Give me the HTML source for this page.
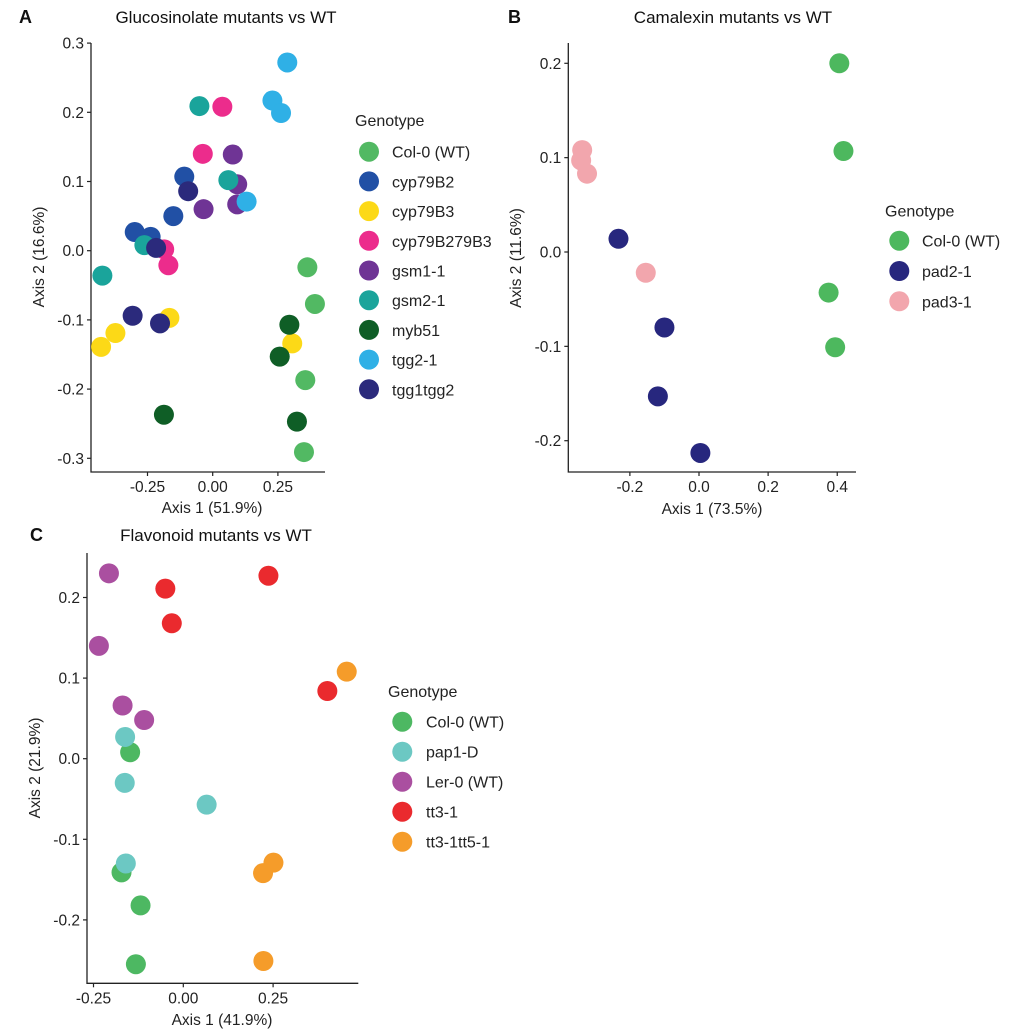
<!DOCTYPE html>
<html><head><meta charset="utf-8"><style>
body{margin:0;background:#fff;}
svg{display:block;font-family:"Liberation Sans",sans-serif;}
</style></head><body>
<svg id="fig" width="1009" height="1030" viewBox="0 0 1009 1030" xmlns="http://www.w3.org/2000/svg">
<rect width="1009" height="1030" fill="#fff"/>
</svg>
<script>
// ---- Panel A data ----
const aGroups = ["Col-0 (WT)","cyp79B2","cyp79B3","cyp79B279B3","gsm1-1","gsm2-1","myb51","tgg2-1","tgg1tgg2"];
const aColors = ["#52b963","#2150a5","#fcd917","#ec2c8c","#6f3495","#1aa49b","#0f5e26","#2fb0e6","#2b2a7c"];
const aX = [
 [0.363,0.392,0.355,0.350],
 [-0.299,-0.238,-0.109,-0.151],
 [-0.428,-0.373,-0.166,0.305],
 [0.037,-0.038,-0.186,-0.170],
 [0.077,0.094,0.094,-0.035],
 [-0.051,0.060,-0.262,-0.423],
 [0.294,0.257,0.323,-0.187],
 [0.286,0.229,0.262,0.130],
 [-0.094,-0.217,-0.307,-0.202]];
const aY = [
 [-0.024,-0.077,-0.187,-0.291],
 [0.027,0.020,0.107,0.050],
 [-0.139,-0.119,-0.097,-0.134],
 [0.208,0.140,0.002,-0.021],
 [0.139,0.096,0.067,0.060],
 [0.209,0.102,0.008,-0.036],
 [-0.107,-0.153,-0.247,-0.237],
 [0.272,0.217,0.199,0.071],
 [0.086,0.004,-0.094,-0.105]];
const aXTicks = [-0.25,0,0.25];
const aXTickLabels = ["-0.25","0.00","0.25"];
const aYTicks = [0.3,0.2,0.1,0,-0.1,-0.2,-0.3];
const aYTickLabels = ["0.3","0.2","0.1","0.0","-0.1","-0.2","-0.3"];
// ---- Panel B data ----
const bGroups = ["Col-0 (WT)","pad2-1","pad3-1"];
const bColors = ["#4db85e","#27277e","#f2a6ad"];
const bX = [[0.406,0.418,0.375,0.394],[-0.233,-0.100,-0.119,0.004],[-0.338,-0.341,-0.324,-0.154]];
const bY = [[0.200,0.107,-0.043,-0.101],[0.014,-0.080,-0.153,-0.213],[0.108,0.097,0.083,-0.022]];
const bXTicks = [-0.2,0,0.2,0.4];
const bXTickLabels = ["-0.2","0.0","0.2","0.4"];
const bYTicks = [0.2,0.1,0,-0.1,-0.2];
const bYTickLabels = ["0.2","0.1","0.0","-0.1","-0.2"];
// ---- Panel C data ----
const cGroups = ["Col-0 (WT)","pap1-D","Ler-0 (WT)","tt3-1","tt3-1tt5-1"];
const cColors = ["#4db862","#6cc8c3","#aa4fa0","#ea2a2e","#f59c2a"];
const cX = [[-0.148,-0.172,-0.119,-0.132],[-0.162,-0.163,0.065,-0.160],[-0.207,-0.235,-0.169,-0.109],[-0.050,-0.032,0.237,0.401],[0.455,0.251,0.222,0.223]];
const cY = [[0.008,-0.141,-0.182,-0.255],[0.027,-0.030,-0.057,-0.130],[0.230,0.140,0.066,0.048],[0.211,0.168,0.227,0.084],[0.108,-0.129,-0.142,-0.251]];
const cXTicks = [-0.25,0,0.25];
const cXTickLabels = ["-0.25","0.00","0.25"];
const cYTicks = [0.2,0.1,0,-0.1,-0.2];
const cYTickLabels = ["0.2","0.1","0.0","-0.1","-0.2"];

const NS="http://www.w3.org/2000/svg";
const svg=document.getElementById('fig');
function mk(tag,attrs,parent,txt){const e=document.createElementNS(NS,tag);for(const k in attrs)e.setAttribute(k,attrs[k]);if(txt!==undefined)e.textContent=txt;(parent||svg).appendChild(e);return e;}

function panel(p){
  const g=mk('g',{});
  
  
  const sx=v=>p.x0+v*p.xs, sy=v=>p.y0-v*p.ys;
  const lt=mk('text',{x:p.letter[0],y:p.letter[1],'font-size':18,'font-weight':'bold',fill:'#111'},g,p.letterText);
  
  
  const tt=mk('text',{x:p.title[0],y:p.title[1],'font-size':17,'text-anchor':'middle',fill:'#111'},g,p.titleText);
  
  
  const ax=mk('path',{d:`M${p.left} ${p.top}V${p.bottom}H${p.right}`,stroke:'#222','stroke-width':1.3,fill:'none'},g);
  
  
  p.xt.forEach((v,i)=>{
    const x=sx(v);
    mk('line',{x1:x,x2:x,y1:p.bottom,y2:p.bottom+4,stroke:'#222','stroke-width':1.2},g);
    const t=mk('text',{x:x,y:p.bottom+20,'font-size':15.5,'text-anchor':'middle',fill:'#222'},g,p.xtl[i]);
    
    
  });
  p.yt.forEach((v,i)=>{
    const y=sy(v);
    mk('line',{x1:p.left-4,x2:p.left,y1:y,y2:y,stroke:'#222','stroke-width':1.2},g);
    const t=mk('text',{x:p.left-7,y:y+5.5,'font-size':15.5,'text-anchor':'end',fill:'#222'},g,p.ytl[i]);
    
    
  });
  const xt=mk('text',{x:p.xtitle[0],y:p.xtitle[1],'font-size':15.5,'text-anchor':'middle',fill:'#222'},g,p.xtitleText);
  
  
  const yt=mk('text',{x:0,y:0,'font-size':15.5,'text-anchor':'middle',fill:'#222',transform:`translate(${p.ytitle[0]},${p.ytitle[1]}) rotate(-90)`},g,p.ytitleText);
  
  
  p.groups.forEach((name,gi)=>{
    p.X[gi].forEach((xv,j)=>{
      const c=mk('circle',{cx:sx(xv),cy:sy(p.Y[gi][j]),r:10,fill:p.colors[gi]},g);
      
      
    });
  });
  const lg=mk('g',{},g);
  
  
  mk('text',{x:p.leg.tx,y:p.leg.ty+6,'font-size':16,fill:'#222'},lg,'Genotype');
  p.groups.forEach((name,gi)=>{
    const y=p.leg.cy+gi*p.leg.sp;
    const e=mk('g',{},lg);
    
    
    mk('circle',{cx:p.leg.cx,cy:y,r:10,fill:p.colors[gi]},e);
    mk('text',{x:p.leg.lx,y:y+6,'font-size':16,fill:'#222'},e,name);
  });
}

panel({id:'glucosinolate',letterText:'A',letter:[19,23],titleText:'Glucosinolate mutants vs WT',title:[226,23],
  left:91,right:325,top:43,bottom:472,x0:212.7,xs:260.8,y0:250.7,ys:692,
  xt:aXTicks,xtl:aXTickLabels,yt:aYTicks,ytl:aYTickLabels,
  xtitle:[212,513],xtitleText:'Axis 1 (51.9%)',ytitle:[44,257],ytitleText:'Axis 2 (16.6%)',
  groups:aGroups,colors:aColors,X:aX,Y:aY,
  leg:{tx:355,ty:120,cx:369,cy:151.7,sp:29.7,lx:392}});
panel({id:'camalexin',letterText:'B',letter:[508,23],titleText:'Camalexin mutants vs WT',title:[733,23],
  left:568.3,right:856,top:43,bottom:472,x0:699,xs:345.6,y0:252,ys:943.5,
  xt:bXTicks,xtl:bXTickLabels,yt:bYTicks,ytl:bYTickLabels,
  xtitle:[712,514],xtitleText:'Axis 1 (73.5%)',ytitle:[521,258],ytitleText:'Axis 2 (11.6%)',
  groups:bGroups,colors:bColors,X:bX,Y:bY,
  leg:{tx:885,ty:210.7,cx:899.3,cy:240.7,sp:30.3,lx:922}});
panel({id:'flavonoid',letterText:'C',letter:[30,541],titleText:'Flavonoid mutants vs WT',title:[216,541],
  left:87,right:358.3,top:553,bottom:983.3,x0:183.3,xs:359.2,y0:758.7,ys:806,
  xt:cXTicks,xtl:cXTickLabels,yt:cYTicks,ytl:cYTickLabels,
  xtitle:[222,1025],xtitleText:'Axis 1 (41.9%)',ytitle:[40,768],ytitleText:'Axis 2 (21.9%)',
  groups:cGroups,colors:cColors,X:cX,Y:cY,
  leg:{tx:388,ty:691,cx:402.3,cy:721.7,sp:30,lx:426}});
</script>
</body></html>
